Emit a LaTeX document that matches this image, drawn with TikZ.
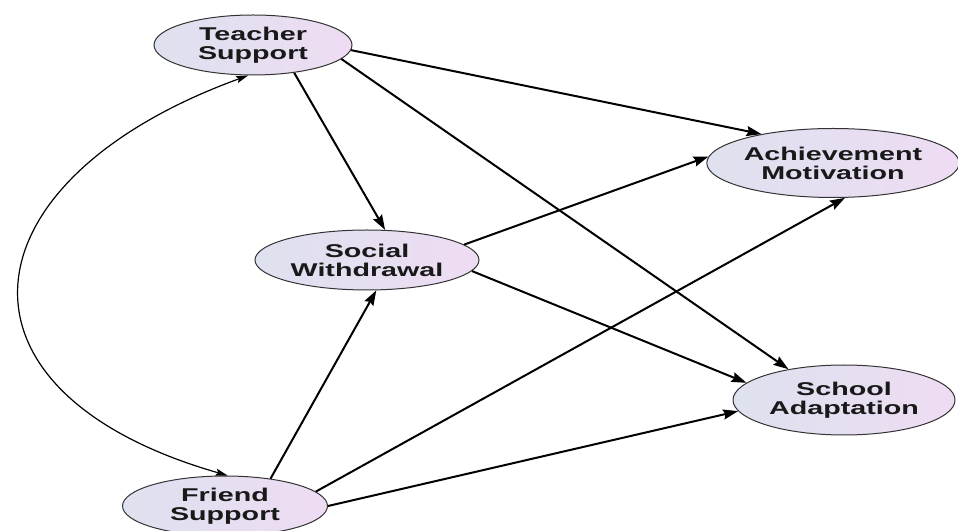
\documentclass[tikz,border=0pt]{standalone}
\usepackage{fontspec}
\usepackage{tikz}
\usetikzlibrary{shapes.geometric,arrows.meta}
\newfontfamily\nodefont[FakeStretch=1.55]{Liberation Sans}
\definecolor{leftfill}{RGB}{222,225,239}
\definecolor{rightfill}{RGB}{238,220,243}

\begin{document}
\begin{tikzpicture}[x=1pt,y=1pt,
	factor/.style={ellipse,draw=black!80,line width=1pt,shading=axis,left color=leftfill,right color=rightfill,
		font=\nodefont\bfseries\fontsize{18.5}{19}\selectfont,text=black!90,align=center,inner sep=0pt},
	effect/.style={-{Stealth[length=15pt,width=10pt,inset=2pt]},line width=2pt},
	corr/.style={{Stealth[length=12pt,width=7pt,inset=2pt]}-{Stealth[length=12pt,width=7pt,inset=2pt]},line width=1.2pt},
	]
	\useasboundingbox (0,0) rectangle (958,530);
	\node[factor,minimum width=198pt,minimum height=60pt] (TS) at (253,485) {Teacher\\Support};
	\node[factor,minimum width=237pt,minimum height=69pt] (AM) at (833,367) {Achievement\\Motivation};
	\node[factor,minimum width=224pt,minimum height=60pt] (SW) at (367,270) {Social\\Withdrawal};
	\node[factor,minimum width=222pt,minimum height=70pt] (SA) at (844,130) {School\\Adaptation};
	\node[factor,minimum width=205pt,minimum height=60pt] (FS) at (225,24) {Friend\\Support};
	\draw[effect] (TS.-34) -- (SW.59);
	\draw[effect] (TS.-3) -- (AM.158);
	\draw[effect] (TS.-9) -- (SA.151);
	\draw[effect] (SW.9) -- (AM.177);
	\draw[effect] (SW.-6) -- (SA.170);
	\draw[effect] (FS.31) -- (SW.-73);
	\draw[effect] (FS.9) -- (AM.-71);
	\draw[effect] (FS.0) -- (SA.186);
	\draw[corr] (TS.-99) to[out=200,in=164,looseness=1.95] (FS.85);
\end{tikzpicture}
\end{document}
